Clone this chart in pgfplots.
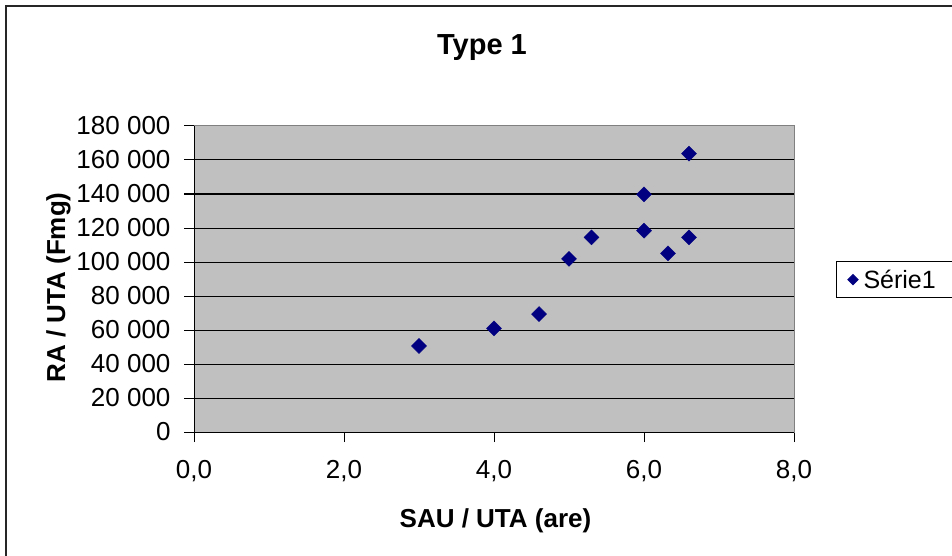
\documentclass[border=0pt]{standalone}
\usepackage{fontspec}
\setmainfont{Liberation Sans}
\usepackage{pgfplots}
\pgfplotsset{compat=1.18}
\definecolor{navy}{RGB}{0,0,128}
\definecolor{plotgray}{RGB}{192,192,192}
\definecolor{bordergray}{RGB}{128,128,128}
\begin{document}
\begin{tikzpicture}
\path[use as bounding box] (0pt,0pt) rectangle (952pt,555pt);
\draw[line width=1.5pt, black!85] (6pt,-5pt) -- (6pt,549pt) -- (960pt,549pt);
\node[anchor=base, font=\fontsize{29}{30}\selectfont\bfseries] at (482pt,500pt) {Type 1};
\node[anchor=base, font=\fontsize{26}{28}\selectfont\bfseries] at (495.5pt,28pt) {SAU / UTA (are)};
\node[anchor=base, rotate=90, font=\fontsize{26}{28}\selectfont\bfseries] at (65pt,267.5pt) {RA / UTA (Fmg)};
\begin{axis}[
  at={(194pt,123pt)}, anchor=south west, scale only axis,
  width=600pt, height=306pt,
  xmin=0, xmax=8, ymin=0, ymax=180000,
  xtick={0,2,4,6,8}, ytick={0,20000,40000,60000,80000,100000,120000,140000,160000,180000},
  xticklabels={{0,0},{2,0},{4,0},{6,0},{8,0}},
  yticklabels={0,20 000,40 000,60 000,80 000,100 000,120 000,140 000,160 000,180 000},
  axis background/.style={fill=plotgray},
  axis line style={draw=bordergray, line width=1pt},
  ymajorgrids, grid style={black, line width=1pt},
  tick align=outside, major tick length=10pt,
  tick style={black, line width=1pt},
  xtick pos=bottom, ytick pos=left,
  scaled y ticks=false,
  tick label style={font=\fontsize{26}{26}\selectfont},
  yticklabel style={xshift=-10pt},
  xticklabel style={yshift=-15pt},
  legend style={at={(1.07,0.498)}, anchor=west, draw=black, line width=1pt,
    fill=white, font=\fontsize{25}{25}\selectfont, inner ysep=8pt, inner xsep=0pt,
    nodes={inner sep=0pt}, column sep=0pt},
  legend image code/.code={\path (0pt,0pt) (26pt,0pt); \draw[#1, mark size=3.6pt] plot coordinates {(16pt,0pt)};},
  after end axis/.code={\draw[black, line width=1pt] (rel axis cs:0,1) -- (rel axis cs:0,0) -- (rel axis cs:1,0);},
]
\addplot[only marks, mark=square*, mark size=5.3pt,
  mark options={rotate=45, fill=navy, draw=navy}]
  coordinates {(3.0,50600) (4.0,61000) (4.6,69400) (5.0,101800) (5.3,114500)
               (6.0,139800) (6.0,118400) (6.32,105100) (6.6,114500) (6.6,163700)};
\addlegendentry{Série1\rule{40pt}{0pt}}
\end{axis}
\end{tikzpicture}
\end{document}
